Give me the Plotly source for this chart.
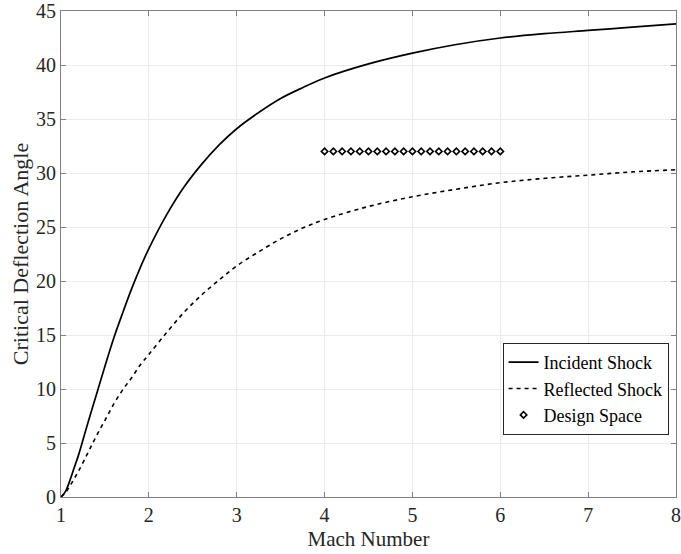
import plotly.graph_objects as go

mach = [1.0, 1.05, 1.1, 1.15, 1.2, 1.3, 1.4, 1.5, 1.6, 1.7, 1.8, 1.9, 2.0, 2.2, 2.4,
        2.6, 2.8, 3.0, 3.25, 3.5, 3.75, 4.0, 4.5, 5.0, 5.5, 6.0, 6.5, 7.0, 7.5, 8.0]
incident = [0, 0.5, 1.5, 2.7, 3.9, 6.7, 9.4, 12.1, 14.7, 17.0, 19.2, 21.2, 23.0, 26.1, 28.7,
            30.8, 32.6, 34.1, 35.6, 36.9, 37.9, 38.8, 40.1, 41.1, 41.9, 42.5, 42.9, 43.2, 43.5, 43.8]
reflected = [0, 0.4, 1.0, 1.7, 2.4, 4.0, 5.6, 7.1, 8.6, 9.9, 11.0, 12.2, 13.2, 15.2, 17.1,
             18.7, 20.1, 21.4, 22.7, 23.9, 24.9, 25.7, 26.9, 27.8, 28.5, 29.1, 29.5, 29.8, 30.1, 30.3]
design_mach = [4.0, 4.1, 4.2, 4.3, 4.4, 4.5, 4.6, 4.7, 4.8, 4.9, 5.0,
               5.1, 5.2, 5.3, 5.4, 5.5, 5.6, 5.7, 5.8, 5.9, 6.0]
design_angle = [32] * len(design_mach)

font_family = "Liberation Serif"
text_color = "#262626"
axis_color = "#808080"
grid_color = "#ebebeb"

fig = go.Figure()
fig.add_trace(go.Scatter(x=mach, y=incident, mode="lines", name="Incident Shock",
                         line=dict(color="black", width=1.7, shape="spline")))
fig.add_trace(go.Scatter(x=mach, y=reflected, mode="lines", name="Reflected Shock",
                         line=dict(color="black", width=1.6, dash="4px,4px", shape="spline")))
fig.add_trace(go.Scatter(x=design_mach, y=design_angle, mode="markers", name="Design Space",
                         marker=dict(symbol="diamond-open", size=5, color="black",
                                     line=dict(width=1.6, color="black"))))

axis_common = dict(
    showline=True, linecolor=axis_color, linewidth=1, mirror="ticks",
    ticks="inside", ticklen=5, tickcolor=axis_color, tickwidth=1,
    showgrid=True, gridcolor=grid_color, gridwidth=1, zeroline=False,
    automargin=False,
    tickfont=dict(family=font_family, size=20, color=text_color),
)

fig.update_xaxes(range=[1, 8], tickvals=[1, 2, 3, 4, 5, 6, 7, 8],
                 title=dict(text="Mach Number", font=dict(family=font_family, size=21, color=text_color),
                            standoff=6),
                 **axis_common)
fig.update_yaxes(range=[0, 45], tickvals=[0, 5, 10, 15, 20, 25, 30, 35, 40, 45],
                 title=dict(text="Critical Deflection Angle",
                            font=dict(family=font_family, size=22, color=text_color), standoff=1),
                 **axis_common)

fig.update_layout(
    width=681, height=554,
    margin=dict(l=61, r=5, t=11, b=57),
    plot_bgcolor="white", paper_bgcolor="white",
    font=dict(family=font_family, color=text_color),
    legend=dict(x=0.718, y=0.317, xanchor="left", yanchor="top",
                bgcolor="white", bordercolor="#262626", borderwidth=1,
                font=dict(family=font_family, size=18, color="black"),
                tracegroupgap=0, itemwidth=30),
)

fig.write_html("out.html")
